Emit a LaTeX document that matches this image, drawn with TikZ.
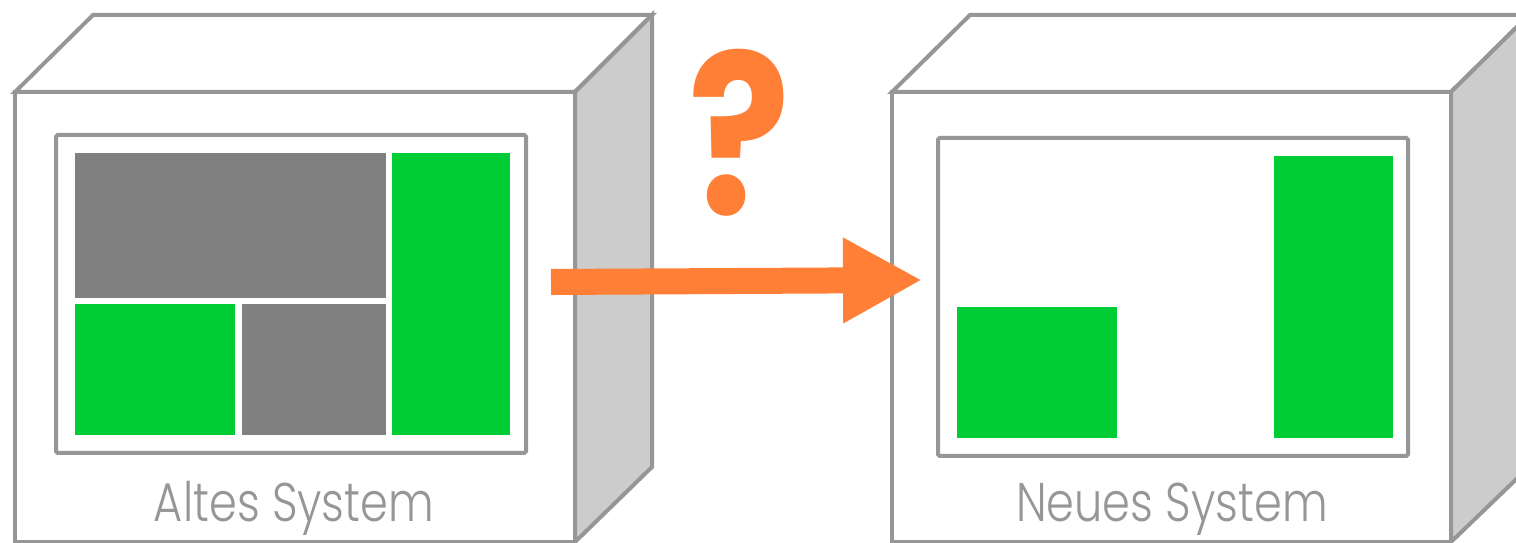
\documentclass[tikz,border=0pt]{standalone}
\usepackage{fontspec}
\usepackage{graphicx}
\setmainfont{Poppins}[UprightFont=* Light, BoldFont=* Bold]
\usetikzlibrary{arrows.meta}
\definecolor{framegray}{RGB}{150,150,150}
\definecolor{sidegray}{RGB}{204,204,204}
\definecolor{partgray}{RGB}{128,128,128}
\definecolor{partgreen}{RGB}{0,204,51}
\definecolor{arroworange}{RGB}{254,127,53}
\definecolor{textgray}{RGB}{150,150,150}

\begin{document}
\begin{tikzpicture}[x=0.02cm, y=-0.02cm,
    box/.style={draw=framegray, line width=0.08cm},
    screen/.style={draw=framegray, line width=0.08cm, rounded corners=1pt},
    syslabel/.style={text=textgray, font=\fontsize{31}{31}\selectfont, anchor=base}]
  \useasboundingbox (0,0) rectangle (1516,543);
  \clip (0,0) rectangle (1516,543);

  % altes System
  \draw[box, fill=white] (15,92) -- (93,15) -- (652,15) -- (575,92) -- cycle;
  \draw[box, fill=sidegray] (575,92) -- (652,15) -- (652,467) -- (575,542) -- cycle;
  \draw[box, fill=white] (15,92) rectangle (575,542);
  \draw[screen] (56,135) rectangle (526,453);
  \fill[partgray] (75,153) rectangle (386,298);
  \fill[partgreen] (392,153) rectangle (510,435);
  \fill[partgreen] (75,304) rectangle (235,435);
  \fill[partgray] (242,304) rectangle (386,435);
  \node[syslabel] (oldlabel) at (294,522) {\scalebox{0.82}[1]{Altes System}};

  % neues System
  \draw[box, fill=white] (892,92) -- (970,15) -- (1529,15) -- (1451,92) -- cycle;
  \draw[box, fill=sidegray] (1451,92) -- (1529,15) -- (1529,467) -- (1451,542) -- cycle;
  \draw[box, fill=white] (892,92) rectangle (1451,542);
  \draw[screen] (938,138) rectangle (1408,456);
  \fill[partgreen] (957,307) rectangle (1117,438);
  \fill[partgreen] (1274,156) rectangle (1393,438);
  \node[syslabel] (newlabel) at (1172,522) {\scalebox{0.82}[1]{Neues System}};

  % Migration
  \coordinate (arrowstart) at (551,282);
  \coordinate (arrowend) at (922,280);
  \draw[arroworange, line width=0.52cm, -{Triangle[length=1.58cm, width=1.6cm]}] (arrowstart) -- (arrowend);
  \node[text=arroworange, font=\fontsize{127}{127}\selectfont\bfseries, anchor=base] (question) at (740,215) {\scalebox{0.85}[1]{?}};
\end{tikzpicture}
\end{document}
